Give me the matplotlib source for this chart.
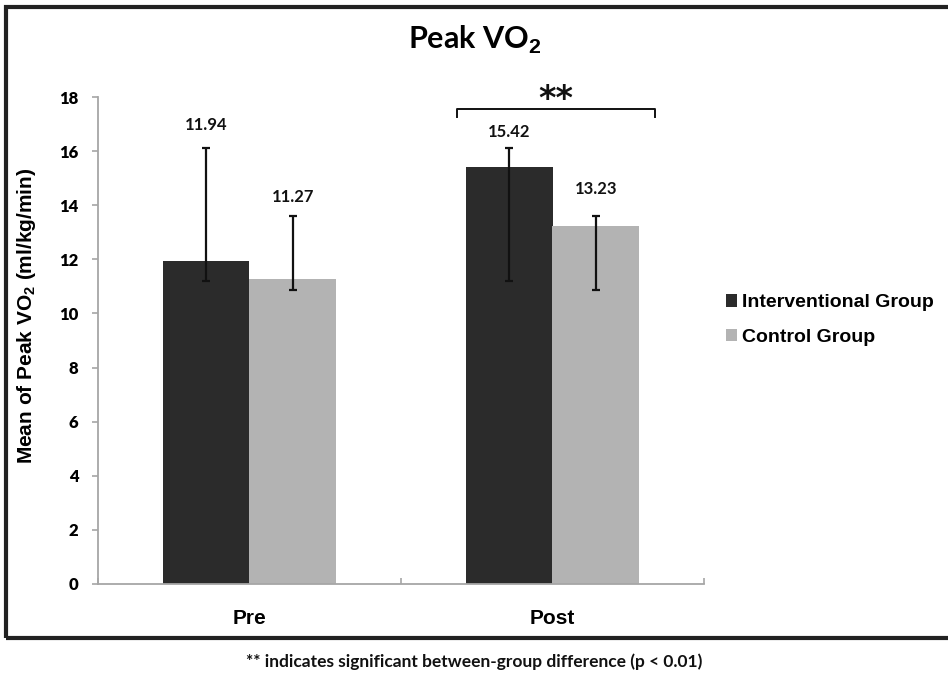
import numpy as np
import matplotlib
matplotlib.use('Agg')
import matplotlib.pyplot as plt
from matplotlib.patches import Rectangle, Patch

plt.rcParams['mathtext.fontset'] = 'custom'
plt.rcParams['mathtext.rm'] = 'Liberation Sans:bold'
plt.rcParams['mathtext.it'] = 'Liberation Sans:bold'

# data
categories = ['Pre', 'Post']
groups = ['Interventional Group', 'Control Group']
interventional = [11.94, 15.42]
control = [11.27, 13.23]
interv_low = [11.2, 11.2]
interv_high = [16.1, 16.1]
control_low = [10.85, 10.85]
control_high = [13.6, 13.6]
y_ticks = [0, 2, 4, 6, 8, 10, 12, 14, 16, 18]

dark = '#2b2b2b'
light = '#b3b3b3'
axis_grey = '#a6a6a6'

fig = plt.figure(figsize=(9.48, 6.88), dpi=100)
ax = fig.add_axes([98/948, 1 - 584/688, 606/948, 487/688])

x = np.arange(len(categories))
w = 0.287
pos_i = x - w/2
pos_c = x + w/2

ax.bar(pos_i, interventional, w, color=dark, zorder=2)
ax.bar(pos_c, control, w, color=light, zorder=2)

err_i = [np.array(interventional) - np.array(interv_low), np.array(interv_high) - np.array(interventional)]
err_c = [np.array(control) - np.array(control_low), np.array(control_high) - np.array(control)]
ax.errorbar(pos_i, interventional, yerr=err_i, fmt='none', ecolor='#111111', elinewidth=1.6, capsize=3, capthick=1.6, zorder=3)
ax.errorbar(pos_c, control, yerr=err_c, fmt='none', ecolor='#111111', elinewidth=1.6, capsize=3, capthick=1.6, zorder=3)

# value labels above the error bars
label_pad = [0.85, 0.6, 0.7, 1.0]
tops = interv_high + control_high
xs = list(pos_i) + list(pos_c)
vals = interventional + control
for xx, top, v, p in zip(xs, tops, vals, label_pad):
    ax.text(xx, top + p, f'{v:.2f}', ha='center', va='center', fontsize=12,
            fontweight='bold', family='Lato', color='#111111')

# significance bracket over Post
bx0, bx1, by = 0.686, 1.337, 17.55
ax.plot([bx0, bx0, bx1, bx1], [by - 0.28, by, by, by - 0.28], color='#111111', lw=1.4, clip_on=False)
ax.text((bx0 + bx1) / 2, by - 0.25, '**', ha='center', va='bottom', fontsize=24,
        fontweight='bold', family='DejaVu Sans', color='#111111')

ax.set_xlim(-0.5, 1.5)
ax.set_ylim(0, 18)
ax.set_yticks(y_ticks)
ax.set_yticklabels([str(t) for t in y_ticks], family='Lato', fontweight='heavy', fontsize=12)
ax.set_xticks(x)
ax.set_xticklabels(categories, family='Liberation Sans', fontweight='bold', fontsize=15)
ax.set_xticks([-0.5, 0.5, 1.5], minor=True)
ax.tick_params(axis='x', which='major', length=0, pad=18)
ax.tick_params(axis='x', which='minor', direction='in', length=4, color=axis_grey, width=1.2)
ax.tick_params(axis='y', direction='out', length=4, color=axis_grey, width=1.2, pad=10)

for s in ['top', 'right']:
    ax.spines[s].set_visible(False)
for s in ['left', 'bottom']:
    ax.spines[s].set_color(axis_grey)
    ax.spines[s].set_linewidth(1.3)

ax.set_ylabel('Mean of Peak VO$_2$ (ml/kg/min)', family='Liberation Sans', fontweight='bold', fontsize=15)
ax.yaxis.set_label_coords(-0.099, 0.55)

fig.text(475/948, 1 - 40/688, 'Peak VO$_2$', ha='center', va='center', fontsize=22,
         family='Lato', fontweight='bold')

handles = [Patch(facecolor=dark), Patch(facecolor=light)]
fig.legend(handles, groups, loc='center left', bbox_to_anchor=(708/948, 1 - 320/688),
           frameon=False, handlelength=0.6, handleheight=0.6, handletextpad=0.25,
           labelspacing=0.9, prop={'family': 'Liberation Sans', 'weight': 'bold', 'size': 14})

# frame around the chart area
fig.patches.append(Rectangle((6/948, 1 - 638/688), 2.0, 631/688, transform=fig.transFigure,
                             fill=False, edgecolor='#222222', lw=3, zorder=10))

fig.text(474/948, 1 - 662/688, '** indicates significant between-group difference (p < 0.01)',
         ha='center', va='center', fontsize=12.5, fontweight='bold', family='Lato', color='#111111')

fig.savefig('out.png', dpi=100)
